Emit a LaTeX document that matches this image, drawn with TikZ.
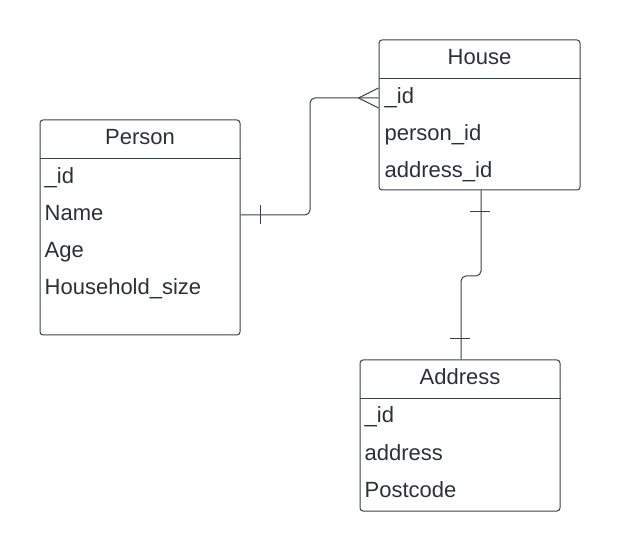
\documentclass[tikz,border=0pt]{standalone}
\usepackage{fontspec}
\setmainfont{Liberation Sans}
\usetikzlibrary{positioning,calc}
\definecolor{linegray}{HTML}{3A414A}
\definecolor{textgray}{HTML}{2B3038}
\tikzset{
	entity/.style={draw=linegray, line width=1pt, rounded corners=3pt, minimum width=200pt, inner sep=0pt},
	heading/.style={anchor=base, inner sep=0pt, text=textgray, font=\fontsize{22}{26}\selectfont},
	field/.style={anchor=base west, inner sep=0pt, text=textgray, font=\fontsize{22}{26}\selectfont},
	link/.style={draw=linegray, line width=1pt, rounded corners=5pt},
	tick/.style={draw=linegray, line width=1pt}
}
\begin{document}
\begin{tikzpicture}[x=1pt,y=1pt]
		\useasboundingbox (0,0) rectangle (620,551);
		% entities
		\node[entity, minimum height=215pt] (person) at (140,323.5) {};
		\node[entity, minimum height=150pt, minimum width=201pt] (house) at (479.5,436) {};
		\node[entity, minimum height=151pt] (address) at (460,115.5) {};
		\node[heading] (person-title) at ([yshift=-25.5pt]person.north) {Person};
		\node[heading] (house-title) at ([yshift=-25.5pt]house.north) {House};
		\node[heading] (address-title) at ([yshift=-25.5pt]address.north) {Address};
		\foreach \e in {person,house,address}
		\draw[tick] ([yshift=-39pt]\e.north west) -- ([yshift=-39pt]\e.north east);
		% fields
		\foreach \f [count=\i] in {\_id, Name, Age, Household\_size}
		\node[field] (person-\i) at ([xshift=5pt, yshift=-27.5pt-37pt*\i]person.north west) {\f};
		\foreach \f [count=\i] in {\_id, person\_id, address\_id}
		\node[field] (house-\i) at ([xshift=6pt, yshift=-27.5pt-37pt*\i]house.north west) {\f};
		\foreach \f [count=\i] in {\_id, address, Postcode}
		\node[field] (address-\i) at ([xshift=5pt, yshift=-26.5pt-37pt*\i]address.north west) {\f};
		% person -- house (one to many)
		\coordinate (ph-a) at (person.east |- 0,336);
		\coordinate (ph-b) at (house.west |- 0,453);
		\draw[link] (ph-a) -- (310,336) -- (310,453) -- (ph-b);
		\draw[tick] (260,346) -- (260,327);
		\draw[tick] (ph-b) ++(-20,0) -- ++(20,10);
		\draw[tick] (ph-b) ++(-20,0) -- ++(20,-10);
		% house -- address (one to one)
		\coordinate (ha-a) at (house.south -| 481,0);
		\coordinate (ha-b) at (address.north -| 461,0);
		\draw[link] (ha-a) -- (481,275) -- (461,275) -- (ha-b);
		\draw[tick] (470,339) -- (490,339);
		\draw[tick] (450,212) -- (470,212);
	\end{tikzpicture}
\end{document}
